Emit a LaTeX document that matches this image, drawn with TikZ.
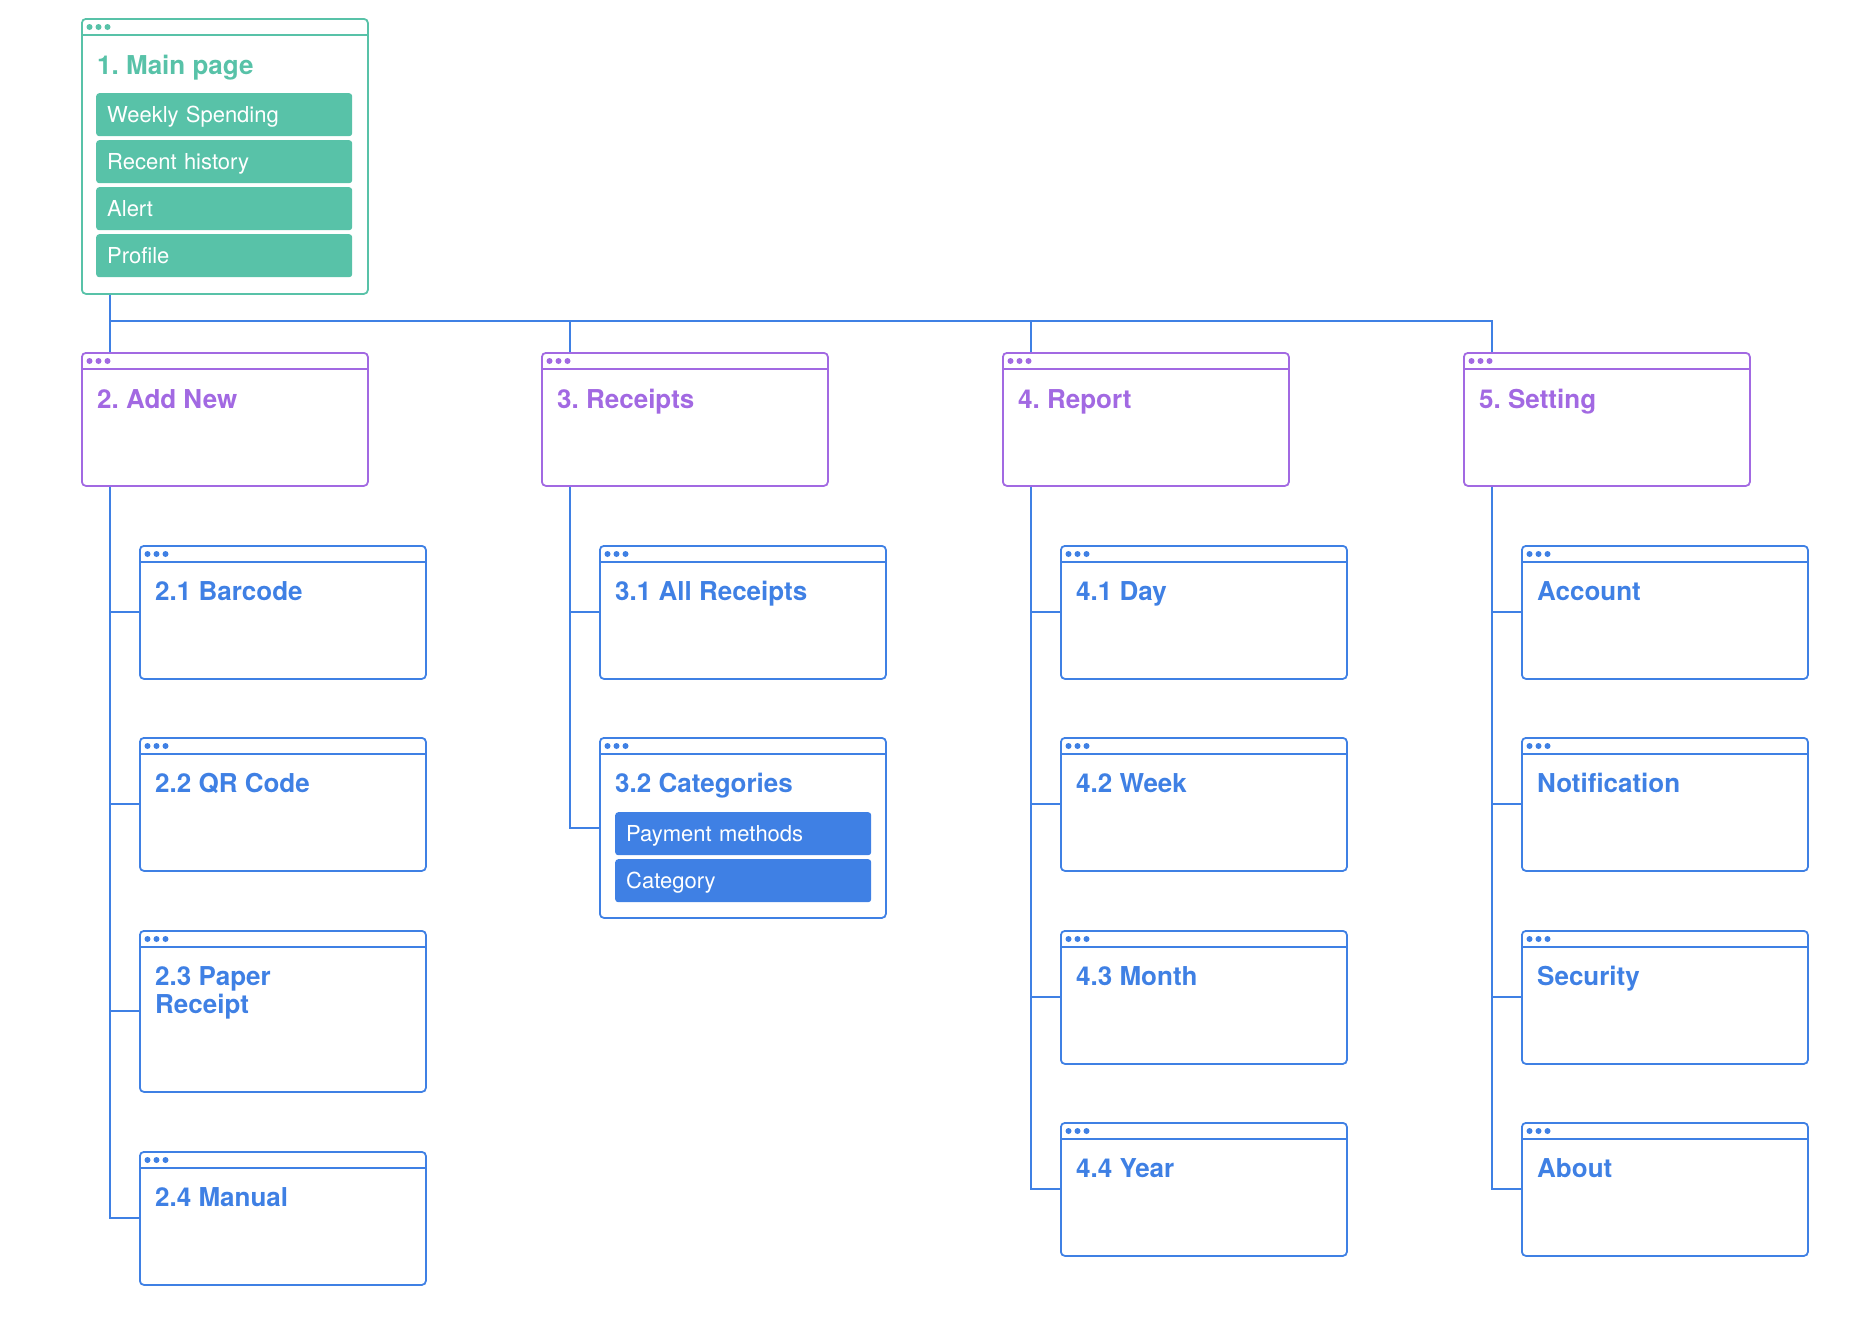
\documentclass[tikz,border=0pt]{standalone}
\usepackage{fontspec}
\setmainfont{TeX Gyre Heros}
\frenchspacing
\definecolor{appteal}{HTML}{58C2A8}
\definecolor{appviolet}{HTML}{A269E2}
\definecolor{appblue}{HTML}{3F80E4}
\newcommand{\titlefont}{\fontsize{26}{28}\selectfont\bfseries}
\newcommand{\itemfont}{\fontsize{22}{24}\selectfont}
\newcommand{\winhead}[2]{%
  \draw[#2, line width=1.8pt] ([yshift=-17pt]#1.north west) -- ([yshift=-17pt]#1.north east);
  \foreach \d in {8.5,17.5,26.5} \fill[#2] ([xshift=\d pt, yshift=-9pt]#1.north west) circle (3pt);
}
\newcommand{\wintext}[1]{\begin{tabular}[t]{@{}l@{}}#1\end{tabular}}
\tikzset{
  win/.style={draw=#1, line width=1.8pt, rounded corners=4pt, anchor=north west,
    inner sep=0pt, minimum width=286pt, minimum height=133pt},
  wintitle/.style={anchor=base west, inner sep=0pt, font=\titlefont, text=#1},
  item/.style={fill=#1, rounded corners=3pt, anchor=north west, minimum height=43pt,
    inner xsep=11pt, text width=234pt, text height=16pt, text depth=0pt,
    text=white, font=\itemfont, align=left},
  link/.style={draw=appblue, line width=2pt}
}
\begin{document}
\begin{tikzpicture}[x=1pt,y=-1pt]
\useasboundingbox (0,0) rectangle (1862,1320);
\node[win=appteal, minimum height=275pt] (main) at (81,18) {};
\winhead{main}{appteal}
\node[wintitle=appteal] (main-t) at ([xshift=16pt,yshift=-56pt]main.north west) {1. Main page};
\foreach \txt [count=\k from 0] in {Weekly Spending,Recent history,Alert,Profile}
  \node[item=appteal] (main-\k) at ([xshift=15pt,yshift=-75pt-\k*47pt]main.north west) {\txt};
\foreach \n/\x/\txt in {addnew/81/2. Add New,receipts/541/3. Receipts,report/1002/4. Report,setting/1463/5. Setting}{
  \node[win=appviolet] (\n) at (\x,352) {};
  \winhead{\n}{appviolet}
  \node[wintitle=appviolet] (\n-t) at ([xshift=16pt,yshift=-56pt]\n.north west) {\txt};
}
\foreach \n/\x/\y/\h/\txt in {barcode/139/545/133/2.1 Barcode,qrcode/139/737/133/2.2 QR Code,
    paper/139/930/161/2.3 Paper\\Receipt,manual/139/1151/133/2.4 Manual,
    allreceipts/599/545/133/3.1 All Receipts,categories/599/737/180/3.2 Categories,
    day/1060/545/133/4.1 Day,week/1060/737/133/4.2 Week,month/1060/930/133/4.3 Month,year/1060/1122/133/4.4 Year,
    account/1521/545/133/Account,notification/1521/737/133/Notification,security/1521/930/133/Security,about/1521/1122/133/About}{
  \node[win=appblue, minimum height=\h pt] (\n) at (\x,\y) {};
  \winhead{\n}{appblue}
  \node[wintitle=appblue] (\n-t) at ([xshift=16pt,yshift=-55pt]\n.north west) {\wintext{\txt}};
}
\node[item=appblue] (categories-0) at ([xshift=16pt,yshift=-75pt]categories.north west) {Payment methods};
\node[item=appblue] (categories-1) at ([xshift=16pt,yshift=-122pt]categories.north west) {Category};
\coordinate (bus) at (109.5,321);
\draw[link] ([xshift=28.5pt]main.south west) -- ([xshift=28.5pt]addnew.north west);
\foreach \p in {receipts,report,setting}
  \draw[link] (bus) -| ([xshift=28.5pt]\p.north west);
\foreach \c in {barcode,qrcode,paper,manual}
  \draw[link] ([xshift=28.5pt]addnew.south west) |- (\c.west);
\foreach \c in {allreceipts,categories}
  \draw[link] ([xshift=28.5pt]receipts.south west) |- (\c.west);
\foreach \c in {day,week,month,year}
  \draw[link] ([xshift=28.5pt]report.south west) |- (\c.west);
\foreach \c in {account,notification,security,about}
  \draw[link] ([xshift=28.5pt]setting.south west) |- (\c.west);
\end{tikzpicture}
\end{document}
